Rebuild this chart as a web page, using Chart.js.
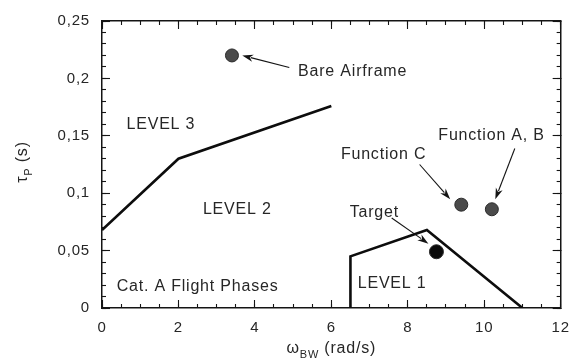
<!DOCTYPE html>
<html>
<head>
<meta charset="utf-8">
<script src="https://cdn.jsdelivr.net/npm/chart.js@4/dist/chart.umd.min.js"></script>
<style>
  html, body { margin: 0; padding: 0; background: #fff; }
  #wrap { width: 580px; height: 361px; }
</style>
</head>
<body>
<div id="wrap"><canvas id="c" width="580" height="361"></canvas></div>
<script>
// Handling-qualities boundaries (Cat. A flight phases)
const boundary23X = [0, 2, 6];
const boundary23Y = [0.068, 0.13, 0.176];
const boundary12X = [6.5, 6.5, 8.5, 11];
const boundary12Y = [0, 0.045, 0.068, 0];

// Configurations: bandwidth (rad/s) and phase delay (s)
const configNames = ['Bare Airframe', 'Function C', 'Function A, B', 'Target'];
const bandwidth = [3.4, 9.4, 10.2, 8.75];
const phaseDelay = [0.22, 0.09, 0.086, 0.049];

// Axis tick labels
const xTickLabels = ['0', '2', '4', '6', '8', '10', '12'];
const yTickLabels = ['0', '0,05', '0,1', '0,15', '0,2', '0,25'];

const FONT = '"Liberation Sans", Arial, Helvetica, sans-serif';
const TEXT = '#262626';
const INK = '#141414';
const SPACING = '0.8px';

// Region labels (centered, data units)
const regionLabels = [
  { text: 'LEVEL 3', x: 1.54, y: 0.1595 },
  { text: 'LEVEL 2', x: 3.54, y: 0.0853 },
  { text: 'LEVEL 1', x: 7.59, y: 0.0216 },
  { text: 'Cat. A Flight Phases', x: 2.5, y: 0.019 }
];

// Callouts: text anchor (left, middle) and arrow tail -> tip, data units
const callouts = [
  { name: 'Bare Airframe', tx: 5.13, ty: 0.206, ax: 4.9, ay: 0.2095, bx: 3.67, by: 0.22 },
  { name: 'Function C', tx: 6.25, ty: 0.1335, ax: 8.31, ay: 0.125, bx: 9.11, by: 0.0948 },
  { name: 'Function A, B', tx: 8.8, ty: 0.15, ax: 10.8, ay: 0.139, bx: 10.29, by: 0.0948 },
  { name: 'Target', tx: 6.48, ty: 0.0828, ax: 7.58, ay: 0.0784, bx: 8.54, by: 0.056 }
];

function pairs(xs, ys) { return xs.map((x, i) => ({ x: x, y: ys[i] })); }

const pointData = configNames.map((n, i) => ({ x: bandwidth[i], y: phaseDelay[i] }));
const pointFill = configNames.map(n => n === 'Target' ? '#0a0a0a' : '#4a4a4a');
const pointRadius = configNames.map(n => n === 'Target' ? 7 : 6.5);

function drawTexts(chart) {
  const ctx = chart.ctx;
  const a = chart.chartArea;
  const x = chart.scales.x, y = chart.scales.y;
  ctx.save();
  ctx.letterSpacing = SPACING;
  ctx.fillStyle = TEXT;
  ctx.font = '16px ' + FONT;
  ctx.textBaseline = 'middle';
  ctx.textAlign = 'center';
  regionLabels.forEach(l => ctx.fillText(l.text, x.getPixelForValue(l.x), y.getPixelForValue(l.y)));
  ctx.textAlign = 'left';
  callouts.forEach(c => {
    ctx.fillStyle = TEXT;
    ctx.fillText(c.name, x.getPixelForValue(c.tx), y.getPixelForValue(c.ty));
    const x0 = x.getPixelForValue(c.ax), y0 = y.getPixelForValue(c.ay);
    const x1 = x.getPixelForValue(c.bx), y1 = y.getPixelForValue(c.by);
    const ang = Math.atan2(y1 - y0, x1 - x0);
    const hl = 11, hw = 3.6;
    const ca = Math.cos(ang), sa = Math.sin(ang);
    ctx.strokeStyle = INK;
    ctx.lineWidth = 1.1;
    ctx.beginPath();
    ctx.moveTo(x0, y0);
    ctx.lineTo(x1 - ca * hl * 0.8, y1 - sa * hl * 0.8);
    ctx.stroke();
    ctx.fillStyle = INK;
    ctx.beginPath();
    ctx.moveTo(x1, y1);
    ctx.lineTo(x1 - ca * hl - sa * hw, y1 - sa * hl + ca * hw);
    ctx.lineTo(x1 - ca * hl * 0.7, y1 - sa * hl * 0.7);
    ctx.lineTo(x1 - ca * hl + sa * hw, y1 - sa * hl - ca * hw);
    ctx.closePath();
    ctx.fill();
  });

  // x title: ω_BW (rad/s)
  ctx.fillStyle = TEXT;
  ctx.textBaseline = 'alphabetic';
  const mainF = '16px ' + FONT, subF = '11px ' + FONT;
  ctx.font = mainF; const w1 = ctx.measureText('\u03c9').width;
  ctx.font = subF; const w2 = ctx.measureText('BW').width;
  ctx.font = mainF; const w3 = ctx.measureText(' (rad/s)').width;
  let sx = (a.left + a.right) / 2 - (w1 + w2 + w3) / 2;
  const by = 353;
  ctx.font = mainF; ctx.fillText('\u03c9', sx, by); sx += w1;
  ctx.font = subF; ctx.fillText('BW', sx, by + 5); sx += w2;
  ctx.font = mainF; ctx.fillText(' (rad/s)', sx, by);

  // y title: τ_P (s), rotated
  ctx.translate(27, 162);
  ctx.rotate(-Math.PI / 2);
  ctx.font = mainF; const v1 = ctx.measureText('\u03c4').width;
  ctx.font = subF; const v2 = ctx.measureText('P').width;
  ctx.font = mainF; const v3 = ctx.measureText(' (s)').width;
  let ty = -(v1 + v2 + v3) / 2;
  ctx.font = mainF; ctx.fillText('\u03c4', ty, 0); ty += v1;
  ctx.font = subF; ctx.fillText('P', ty, 5); ty += v2;
  ctx.font = mainF; ctx.fillText(' (s)', ty, 0);
  ctx.restore();
}

const decorPlugin = {
  id: 'hqDecor',
  beforeDraw(chart) { chart.ctx.letterSpacing = SPACING; },
  afterDraw(chart) { drawTexts(chart); }
};

// Axis builders: border box plus inward tick marks (negative tick length)
function frameGrid(len) {
  return { display: true, drawOnChartArea: false, drawTicks: true, tickLength: -len,
           tickColor: INK, tickWidth: 1.1 };
}
const frameBorder = { display: true, color: INK, width: 1.5 };
function sideAxis(position, min, max, step, len, showBorder) {
  const horiz = position === 'top' || position === 'bottom';
  return {
    type: 'linear', position: position, axis: horiz ? 'x' : 'y', min: min, max: max,
    weight: 0,
    grid: frameGrid(len),
    border: showBorder ? frameBorder : { display: false },
    ticks: { display: false, stepSize: step, maxTicksLimit: 100 },
    afterFit: s => { if (horiz) s.height = 0; else s.width = 0; }
  };
}

new Chart(document.getElementById('c'), {
  type: 'scatter',
  data: {
    datasets: [
      {
        label: 'Level 2/3 boundary',
        data: pairs(boundary23X, boundary23Y),
        showLine: true, borderColor: '#0d0d0d', borderWidth: 2.6,
        pointRadius: 0, tension: 0, fill: false
      },
      {
        label: 'Level 1/2 boundary',
        data: pairs(boundary12X, boundary12Y),
        showLine: true, borderColor: '#0d0d0d', borderWidth: 2.6,
        pointRadius: 0, tension: 0, fill: false, borderJoinStyle: 'miter'
      },
      {
        label: 'Configurations',
        data: pointData,
        showLine: false,
        pointRadius: pointRadius,
        pointBackgroundColor: pointFill,
        pointBorderColor: '#2a2a2a',
        pointBorderWidth: 1
      }
    ]
  },
  options: {
    responsive: false,
    animation: false,
    events: [],
    layout: { padding: { top: 18, right: 17, left: 0, bottom: 0 } },
    plugins: { legend: { display: false }, tooltip: { enabled: false } },
    scales: {
      x: {
        type: 'linear', position: 'bottom', min: 0, max: 12, weight: 1,
        grid: { display: false, drawTicks: false },
        border: frameBorder,
        ticks: {
          stepSize: 2, padding: 11, color: TEXT,
          font: { family: FONT, size: 15 },
          maxRotation: 0,
          callback: (v, i) => xTickLabels[i]
        },
        afterFit: s => { s.height = 53; }
      },
      y: {
        type: 'linear', position: 'left', min: 0, max: 0.25, weight: 1,
        grid: { display: false, drawTicks: false },
        border: frameBorder,
        ticks: {
          stepSize: 0.05, padding: 12, color: TEXT,
          font: { family: FONT, size: 15 },
          callback: (v, i) => yTickLabels[i]
        },
        afterFit: s => { s.width = 102; }
      },
      xMajor: sideAxis('bottom', 0, 12, 2, 8, false),
      xMinor: sideAxis('bottom', 0, 12, 0.5, 4, false),
      yMajor: sideAxis('left', 0, 0.25, 0.05, 8, false),
      yMinor: sideAxis('left', 0, 0.25, 0.01, 4, false),
      xTop: sideAxis('top', 0, 12, 2, 8, true),
      xTopMinor: sideAxis('top', 0, 12, 0.5, 4, false),
      yRight: sideAxis('right', 0, 0.25, 0.05, 8, true),
      yRightMinor: sideAxis('right', 0, 0.25, 0.01, 4, false)
    }
  },
  plugins: [decorPlugin]
});
</script>
</body>
</html>
